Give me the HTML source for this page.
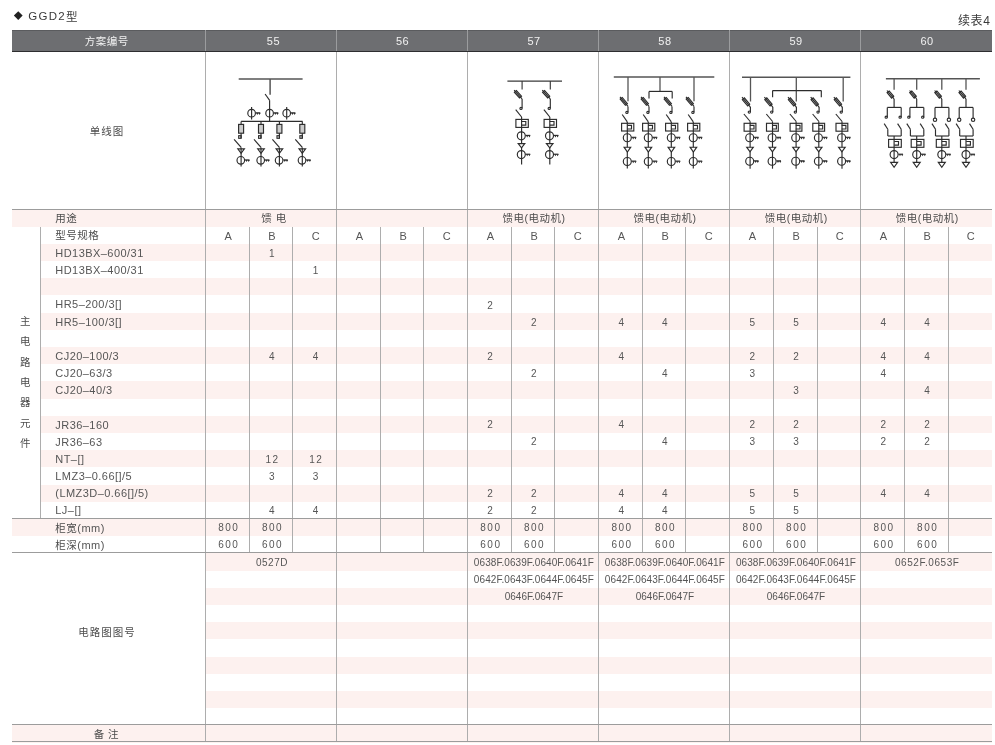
<!DOCTYPE html>
<html lang="zh-CN"><head><meta charset="utf-8"><title>GGD2</title>
<style>
html,body{margin:0;padding:0;background:#fff;}
body{width:995px;height:745px;position:relative;overflow:hidden;font-family:"Liberation Sans","Noto Sans CJK SC",sans-serif;font-weight:400;color:#565656;font-size:11px;}
.a{position:absolute;}
.p{position:absolute;background:#fdf1ef;}
.v{position:absolute;width:1px;background:#adadad;}
.h{position:absolute;height:1px;background:#9c9c9c;}
.t{position:absolute;white-space:nowrap;line-height:12px;height:12px;transform:translate(-50%,-50%);letter-spacing:.5px;}
.l{position:absolute;white-space:nowrap;line-height:12px;height:12px;transform:translate(0,-50%);letter-spacing:.45px;}
.c{font-size:10.5px;letter-spacing:.5px;color:#4c4c4c;}
.n{font-size:10px;letter-spacing:1.5px;}
.s{font-size:10px;letter-spacing:.07px;}
.s2{font-size:10px;letter-spacing:.55px;}
.s3{font-size:10px;letter-spacing:0;}
.w{color:#f1f1f1;}
svg{position:absolute;left:0;top:0;}
#L{position:absolute;left:0;top:0;width:995px;height:745px;will-change:transform;}
</style></head><body><div id="L">
<div class="t c" style="left:18.5px;top:16.1px;font-size:9px;color:#222">◆</div>
<div class="l" style="left:28.2px;top:15.8px;font-size:11.5px;letter-spacing:1.3px;color:#3a3a3a">GGD2<span style="position:relative;top:.9px">型</span></div>
<div class="l c" style="left:958px;top:21.3px;font-size:12px;letter-spacing:.6px;color:#3a3a3a">续表4</div>
<div class="a" style="left:12px;top:29.5px;width:980px;height:22.5px;background:#6d6e71;border-top:1px solid #5a5b5e;border-bottom:1px solid #2e2e30;box-sizing:border-box"></div>
<div class="v" style="left:205px;top:30px;height:21px;background:#9b9c9e"></div>
<div class="v" style="left:336px;top:30px;height:21px;background:#9b9c9e"></div>
<div class="v" style="left:467px;top:30px;height:21px;background:#9b9c9e"></div>
<div class="v" style="left:598px;top:30px;height:21px;background:#9b9c9e"></div>
<div class="v" style="left:729px;top:30px;height:21px;background:#9b9c9e"></div>
<div class="v" style="left:860px;top:30px;height:21px;background:#9b9c9e"></div>
<div class="p" style="left:12.0px;top:209.4px;width:980.0px;height:17.2px"></div>
<div class="p" style="left:41.0px;top:243.8px;width:951.0px;height:17.2px"></div>
<div class="p" style="left:41.0px;top:278.2px;width:951.0px;height:17.2px"></div>
<div class="p" style="left:41.0px;top:312.6px;width:951.0px;height:17.2px"></div>
<div class="p" style="left:41.0px;top:347.0px;width:951.0px;height:17.2px"></div>
<div class="p" style="left:41.0px;top:381.4px;width:951.0px;height:17.2px"></div>
<div class="p" style="left:41.0px;top:415.8px;width:951.0px;height:17.2px"></div>
<div class="p" style="left:41.0px;top:450.2px;width:951.0px;height:17.2px"></div>
<div class="p" style="left:41.0px;top:484.6px;width:951.0px;height:17.2px"></div>
<div class="p" style="left:12.0px;top:519.0px;width:980.0px;height:17.2px"></div>
<div class="p" style="left:206.0px;top:553.4px;width:786.0px;height:17.2px"></div>
<div class="p" style="left:206.0px;top:587.8px;width:786.0px;height:17.2px"></div>
<div class="p" style="left:206.0px;top:622.2px;width:786.0px;height:17.2px"></div>
<div class="p" style="left:206.0px;top:656.6px;width:786.0px;height:17.2px"></div>
<div class="p" style="left:206.0px;top:691.0px;width:786.0px;height:17.2px"></div>
<div class="p" style="left:12.0px;top:725.4px;width:980.0px;height:17.2px"></div>
<div class="v" style="left:205px;top:52px;height:690px"></div>
<div class="v" style="left:249px;top:227px;height:326px"></div>
<div class="v" style="left:292px;top:227px;height:326px"></div>
<div class="v" style="left:336px;top:52px;height:690px"></div>
<div class="v" style="left:380px;top:227px;height:326px"></div>
<div class="v" style="left:423px;top:227px;height:326px"></div>
<div class="v" style="left:467px;top:52px;height:690px"></div>
<div class="v" style="left:511px;top:227px;height:326px"></div>
<div class="v" style="left:554px;top:227px;height:326px"></div>
<div class="v" style="left:598px;top:52px;height:690px"></div>
<div class="v" style="left:642px;top:227px;height:326px"></div>
<div class="v" style="left:685px;top:227px;height:326px"></div>
<div class="v" style="left:729px;top:52px;height:690px"></div>
<div class="v" style="left:773px;top:227px;height:326px"></div>
<div class="v" style="left:817px;top:227px;height:326px"></div>
<div class="v" style="left:860px;top:52px;height:690px"></div>
<div class="v" style="left:904px;top:227px;height:326px"></div>
<div class="v" style="left:948px;top:227px;height:326px"></div>
<div class="v" style="left:40px;top:227px;height:292px"></div>
<div class="h" style="left:12px;top:209px;width:980px"></div>
<div class="h" style="left:12px;top:518px;width:980px"></div>
<div class="h" style="left:12px;top:552px;width:980px"></div>
<div class="h" style="left:12px;top:724px;width:980px"></div>
<div class="h" style="left:12px;top:741px;width:980px"></div>
<div class="t c w" style="left:106.7px;top:40.7px">方案编号</div>
<div class="t w" style="left:273.4px;top:40.9px">55</div>
<div class="t w" style="left:402.6px;top:40.9px">56</div>
<div class="t w" style="left:534.0px;top:40.9px">57</div>
<div class="t w" style="left:664.9px;top:40.9px">58</div>
<div class="t w" style="left:796.0px;top:40.9px">59</div>
<div class="t w" style="left:927.0px;top:40.9px">60</div>
<div class="t c" style="left:107.0px;top:131.0px;letter-spacing:1px">单线图</div>
<div class="t c" style="left:106.9px;top:632.0px;letter-spacing:1px">电路图图号</div>
<div class="t c" style="left:106.4px;top:733.8px">备 注</div>
<div class="l c" style="left:55.3px;top:218.0px">用途</div>
<div class="l c" style="left:55.3px;top:235.2px">型号规格</div>
<div class="l " style="left:55.3px;top:253.0px">HD13BX–600/31</div>
<div class="l " style="left:55.3px;top:270.0px">HD13BX–400/31</div>
<div class="l " style="left:55.3px;top:304.0px">HR5–200/3[]</div>
<div class="l " style="left:55.3px;top:322.0px">HR5–100/3[]</div>
<div class="l " style="left:55.3px;top:356.0px">CJ20–100/3</div>
<div class="l " style="left:55.3px;top:373.0px">CJ20–63/3</div>
<div class="l " style="left:55.3px;top:390.0px">CJ20–40/3</div>
<div class="l " style="left:55.3px;top:425.0px">JR36–160</div>
<div class="l " style="left:55.3px;top:442.0px">JR36–63</div>
<div class="l " style="left:55.3px;top:459.0px">NT–[]</div>
<div class="l " style="left:55.3px;top:476.0px">LMZ3–0.66[]/5</div>
<div class="l " style="left:55.3px;top:493.0px">(LMZ3D–0.66[]/5)</div>
<div class="l " style="left:55.3px;top:510.0px">LJ–[]</div>
<div class="l " style="left:55.3px;top:528.0px"><span class="c">柜宽</span>(mm)</div>
<div class="l " style="left:55.3px;top:545.0px"><span class="c">柜深</span>(mm)</div>
<div class="t c" style="left:25.4px;top:320.9px">主</div>
<div class="t c" style="left:25.4px;top:341.2px">电</div>
<div class="t c" style="left:25.4px;top:361.6px">路</div>
<div class="t c" style="left:25.4px;top:381.9px">电</div>
<div class="t c" style="left:25.4px;top:402.3px">器</div>
<div class="t c" style="left:25.4px;top:422.6px">元</div>
<div class="t c" style="left:25.4px;top:443.0px">件</div>
<div class="t c" style="left:274.0px;top:218.0px">馈 电</div>
<div class="t c" style="left:534.1px;top:218.0px">馈电(电动机)</div>
<div class="t c" style="left:665.1px;top:218.0px">馈电(电动机)</div>
<div class="t c" style="left:796.2px;top:218.0px">馈电(电动机)</div>
<div class="t c" style="left:927.2px;top:218.0px">馈电(电动机)</div>
<div class="t " style="left:228.5px;top:236.0px">A</div>
<div class="t " style="left:272.2px;top:236.0px">B</div>
<div class="t " style="left:315.9px;top:236.0px">C</div>
<div class="t " style="left:359.6px;top:236.0px">A</div>
<div class="t " style="left:403.3px;top:236.0px">B</div>
<div class="t " style="left:446.9px;top:236.0px">C</div>
<div class="t " style="left:490.6px;top:236.0px">A</div>
<div class="t " style="left:534.3px;top:236.0px">B</div>
<div class="t " style="left:578.0px;top:236.0px">C</div>
<div class="t " style="left:621.7px;top:236.0px">A</div>
<div class="t " style="left:665.3px;top:236.0px">B</div>
<div class="t " style="left:709.0px;top:236.0px">C</div>
<div class="t " style="left:752.7px;top:236.0px">A</div>
<div class="t " style="left:796.4px;top:236.0px">B</div>
<div class="t " style="left:840.1px;top:236.0px">C</div>
<div class="t " style="left:883.7px;top:236.0px">A</div>
<div class="t " style="left:927.4px;top:236.0px">B</div>
<div class="t " style="left:971.1px;top:236.0px">C</div>
<div class="t n" style="left:228.8px;top:528.0px">800</div>
<div class="t n" style="left:228.8px;top:545.0px">600</div>
<div class="t n" style="left:272.5px;top:254.0px">1</div>
<div class="t n" style="left:272.5px;top:357.0px">4</div>
<div class="t n" style="left:272.5px;top:460.0px">12</div>
<div class="t n" style="left:272.5px;top:477.0px">3</div>
<div class="t n" style="left:272.5px;top:511.0px">4</div>
<div class="t n" style="left:272.5px;top:528.0px">800</div>
<div class="t n" style="left:272.5px;top:545.0px">600</div>
<div class="t n" style="left:316.2px;top:271.0px">1</div>
<div class="t n" style="left:316.2px;top:357.0px">4</div>
<div class="t n" style="left:316.2px;top:460.0px">12</div>
<div class="t n" style="left:316.2px;top:477.0px">3</div>
<div class="t n" style="left:316.2px;top:511.0px">4</div>
<div class="t n" style="left:490.9px;top:306.0px">2</div>
<div class="t n" style="left:490.9px;top:357.0px">2</div>
<div class="t n" style="left:490.9px;top:425.0px">2</div>
<div class="t n" style="left:490.9px;top:494.0px">2</div>
<div class="t n" style="left:490.9px;top:511.0px">2</div>
<div class="t n" style="left:490.9px;top:528.0px">800</div>
<div class="t n" style="left:490.9px;top:545.0px">600</div>
<div class="t n" style="left:534.6px;top:323.0px">2</div>
<div class="t n" style="left:534.6px;top:374.0px">2</div>
<div class="t n" style="left:534.6px;top:442.0px">2</div>
<div class="t n" style="left:534.6px;top:494.0px">2</div>
<div class="t n" style="left:534.6px;top:511.0px">2</div>
<div class="t n" style="left:534.6px;top:528.0px">800</div>
<div class="t n" style="left:534.6px;top:545.0px">600</div>
<div class="t n" style="left:622.0px;top:323.0px">4</div>
<div class="t n" style="left:622.0px;top:357.0px">4</div>
<div class="t n" style="left:622.0px;top:425.0px">4</div>
<div class="t n" style="left:622.0px;top:494.0px">4</div>
<div class="t n" style="left:622.0px;top:511.0px">4</div>
<div class="t n" style="left:622.0px;top:528.0px">800</div>
<div class="t n" style="left:622.0px;top:545.0px">600</div>
<div class="t n" style="left:665.6px;top:323.0px">4</div>
<div class="t n" style="left:665.6px;top:374.0px">4</div>
<div class="t n" style="left:665.6px;top:442.0px">4</div>
<div class="t n" style="left:665.6px;top:494.0px">4</div>
<div class="t n" style="left:665.6px;top:511.0px">4</div>
<div class="t n" style="left:665.6px;top:528.0px">800</div>
<div class="t n" style="left:665.6px;top:545.0px">600</div>
<div class="t n" style="left:753.0px;top:323.0px">5</div>
<div class="t n" style="left:753.0px;top:357.0px">2</div>
<div class="t n" style="left:753.0px;top:374.0px">3</div>
<div class="t n" style="left:753.0px;top:425.0px">2</div>
<div class="t n" style="left:753.0px;top:442.0px">3</div>
<div class="t n" style="left:753.0px;top:494.0px">5</div>
<div class="t n" style="left:753.0px;top:511.0px">5</div>
<div class="t n" style="left:753.0px;top:528.0px">800</div>
<div class="t n" style="left:753.0px;top:545.0px">600</div>
<div class="t n" style="left:796.7px;top:323.0px">5</div>
<div class="t n" style="left:796.7px;top:357.0px">2</div>
<div class="t n" style="left:796.7px;top:391.0px">3</div>
<div class="t n" style="left:796.7px;top:425.0px">2</div>
<div class="t n" style="left:796.7px;top:442.0px">3</div>
<div class="t n" style="left:796.7px;top:494.0px">5</div>
<div class="t n" style="left:796.7px;top:511.0px">5</div>
<div class="t n" style="left:796.7px;top:528.0px">800</div>
<div class="t n" style="left:796.7px;top:545.0px">600</div>
<div class="t n" style="left:884.0px;top:323.0px">4</div>
<div class="t n" style="left:884.0px;top:357.0px">4</div>
<div class="t n" style="left:884.0px;top:374.0px">4</div>
<div class="t n" style="left:884.0px;top:425.0px">2</div>
<div class="t n" style="left:884.0px;top:442.0px">2</div>
<div class="t n" style="left:884.0px;top:494.0px">4</div>
<div class="t n" style="left:884.0px;top:528.0px">800</div>
<div class="t n" style="left:884.0px;top:545.0px">600</div>
<div class="t n" style="left:927.7px;top:323.0px">4</div>
<div class="t n" style="left:927.7px;top:357.0px">4</div>
<div class="t n" style="left:927.7px;top:391.0px">4</div>
<div class="t n" style="left:927.7px;top:425.0px">2</div>
<div class="t n" style="left:927.7px;top:442.0px">2</div>
<div class="t n" style="left:927.7px;top:494.0px">4</div>
<div class="t n" style="left:927.7px;top:528.0px">800</div>
<div class="t n" style="left:927.7px;top:545.0px">600</div>
<div class="t s2" style="left:272.0px;top:562.5px">0527D</div>
<div class="t s" style="left:533.9px;top:562.5px">0638F.0639F.0640F.0641F</div>
<div class="t s" style="left:533.9px;top:579.7px">0642F.0643F.0644F.0645F</div>
<div class="t s3" style="left:533.9px;top:596.9px">0646F.0647F</div>
<div class="t s" style="left:664.9px;top:562.5px">0638F.0639F.0640F.0641F</div>
<div class="t s" style="left:664.9px;top:579.7px">0642F.0643F.0644F.0645F</div>
<div class="t s3" style="left:664.9px;top:596.9px">0646F.0647F</div>
<div class="t s" style="left:796.0px;top:562.5px">0638F.0639F.0640F.0641F</div>
<div class="t s" style="left:796.0px;top:579.7px">0642F.0643F.0644F.0645F</div>
<div class="t s3" style="left:796.0px;top:596.9px">0646F.0647F</div>
<div class="t s2" style="left:927.2px;top:562.5px">0652F.0653F</div>
<svg width="995" height="745" viewBox="0 0 995 745" fill="none" stroke="#2c2c2c" stroke-width="1.15" stroke-linecap="butt">
<path d="M238.7 78.9L302.6 78.9" stroke="#555" stroke-width="1.50"/>
<path d="M270.1 78.9L270.1 94.7" stroke="#555" stroke-width="1.50"/>
<path d="M265.1 94.0L269.6 100.3"/>
<path d="M269.6 100.3L269.6 121.4"/>
<circle cx="251.6" cy="113.2" r="3.8"/>
<path d="M255.7 112.8h4.6"/>
<path d="M256.2 112.9h2.2l-1.1 2zM258.4 112.9h2.2l-1.1 2z" fill="#2c2c2c" stroke="none"/>
<path d="M251.6 106.9L251.6 119.5"/>
<circle cx="286.7" cy="113.2" r="3.8"/>
<path d="M290.8 112.8h4.6"/>
<path d="M291.3 112.9h2.2l-1.1 2zM293.5 112.9h2.2l-1.1 2z" fill="#2c2c2c" stroke="none"/>
<path d="M286.7 106.9L286.7 119.5"/>
<circle cx="269.6" cy="113.2" r="3.8"/>
<path d="M273.7 112.8h4.6"/>
<path d="M274.2 112.9h2.2l-1.1 2zM276.4 112.9h2.2l-1.1 2z" fill="#2c2c2c" stroke="none"/>
<path d="M241.1 121.4L302.6 121.4" stroke-width="1.1"/>
<path d="M241.1 121.4L241.1 138.3"/>
<rect x="238.6" y="124.4" width="5" height="8.8" fill="#ccc"/>
<rect x="238.7" y="135.7" width="2.4" height="2.6"/>
<path d="M234.1 139.3L241.1 147.4"/>
<path d="M241.1 147.4L241.1 166.5"/>
<path d="M237.8 148.9L244.4 148.9L241.1 153.4Z" fill="none"/>
<circle cx="240.8" cy="160.3" r="3.8"/>
<path d="M244.9 159.9h4.6"/>
<path d="M245.4 160.0h2.2l-1.1 2zM247.6 160.0h2.2l-1.1 2z" fill="#2c2c2c" stroke="none"/>
<path d="M261.0 121.4L261.0 138.3"/>
<rect x="258.5" y="124.4" width="5" height="8.8" fill="#ccc"/>
<rect x="258.6" y="135.7" width="2.4" height="2.6"/>
<path d="M254.0 139.3L261.0 147.4"/>
<path d="M261.0 147.4L261.0 166.5"/>
<path d="M257.7 148.9L264.3 148.9L261.0 153.4Z" fill="none"/>
<circle cx="260.7" cy="160.3" r="3.8"/>
<path d="M264.8 159.9h4.6"/>
<path d="M265.3 160.0h2.2l-1.1 2zM267.5 160.0h2.2l-1.1 2z" fill="#2c2c2c" stroke="none"/>
<path d="M279.4 121.4L279.4 138.3"/>
<rect x="276.9" y="124.4" width="5" height="8.8" fill="#ccc"/>
<rect x="277.0" y="135.7" width="2.4" height="2.6"/>
<path d="M272.4 139.3L279.4 147.4"/>
<path d="M279.4 147.4L279.4 166.5"/>
<path d="M276.1 148.9L282.7 148.9L279.4 153.4Z" fill="none"/>
<circle cx="279.1" cy="160.3" r="3.8"/>
<path d="M283.2 159.9h4.6"/>
<path d="M283.7 160.0h2.2l-1.1 2zM285.9 160.0h2.2l-1.1 2z" fill="#2c2c2c" stroke="none"/>
<path d="M302.3 121.4L302.3 138.3"/>
<rect x="299.8" y="124.4" width="5" height="8.8" fill="#ccc"/>
<rect x="299.9" y="135.7" width="2.4" height="2.6"/>
<path d="M295.3 139.3L302.3 147.4"/>
<path d="M302.3 147.4L302.3 166.5"/>
<path d="M299.0 148.9L305.6 148.9L302.3 153.4Z" fill="none"/>
<circle cx="302.0" cy="160.3" r="3.8"/>
<path d="M306.1 159.9h4.6"/>
<path d="M306.6 160.0h2.2l-1.1 2zM308.8 160.0h2.2l-1.1 2z" fill="#2c2c2c" stroke="none"/>
<path d="M507.4 81.1L562.0 81.1" stroke="#3a3a3a" stroke-width="1.20"/>
<path d="M522.1 81.1L522.1 89.5" stroke="#3a3a3a" stroke-width="1.15"/>
<path d="M514.4 92.4L519.5 98.0L521.5 96.2L516.4 90.6Z" fill="#d8d8d8"/>
<path d="M514.1 90.1L522.1 98.9"/>
<path d="M522.1 98.9L522.1 108.2"/>
<circle cx="521.0" cy="108.4" r="1.1"/>
<path d="M515.7 109.6L521.6 117.0"/>
<path d="M521.6 117.0L521.6 164.6"/>
<rect x="515.9" y="119.4" width="12.4" height="8.0"/>
<path d="M521.6 121.5L525.8 121.5L525.8 125.1L521.6 125.1" fill="none"/>
<circle cx="521.3" cy="135.8" r="4.0"/>
<path d="M525.6 135.4h4.6"/>
<path d="M526.1 135.5h2.2l-1.1 2zM528.3 135.5h2.2l-1.1 2z" fill="#2c2c2c" stroke="none"/>
<path d="M518.2 143.6L524.8 143.6L521.5 147.9Z" fill="#fff"/>
<circle cx="521.3" cy="154.6" r="4.0"/>
<path d="M525.6 154.2h4.6"/>
<path d="M526.1 154.3h2.2l-1.1 2zM528.3 154.3h2.2l-1.1 2z" fill="#2c2c2c" stroke="none"/>
<path d="M550.3 81.1L550.3 89.5" stroke="#3a3a3a" stroke-width="1.15"/>
<path d="M542.6 92.4L547.7 98.0L549.7 96.2L544.6 90.6Z" fill="#d8d8d8"/>
<path d="M542.3 90.1L550.3 98.9"/>
<path d="M550.3 98.9L550.3 108.2"/>
<circle cx="549.2" cy="108.4" r="1.1"/>
<path d="M543.9 109.6L549.8 117.0"/>
<path d="M549.8 117.0L549.8 164.6"/>
<rect x="544.1" y="119.4" width="12.4" height="8.0"/>
<path d="M549.8 121.5L554.0 121.5L554.0 125.1L549.8 125.1" fill="none"/>
<circle cx="549.5" cy="135.8" r="4.0"/>
<path d="M553.8 135.4h4.6"/>
<path d="M554.3 135.5h2.2l-1.1 2zM556.5 135.5h2.2l-1.1 2z" fill="#2c2c2c" stroke="none"/>
<path d="M546.4 143.6L553.0 143.6L549.7 147.9Z" fill="#fff"/>
<circle cx="549.5" cy="154.6" r="4.0"/>
<path d="M553.8 154.2h4.6"/>
<path d="M554.3 154.3h2.2l-1.1 2zM556.5 154.3h2.2l-1.1 2z" fill="#2c2c2c" stroke="none"/>
<path d="M613.8 77.1L714.3 77.1" stroke="#555" stroke-width="1.50"/>
<path d="M628.0 77.1L628.0 101.2" stroke="#555" stroke-width="1.30"/>
<path d="M694.0 77.1L694.0 101.2" stroke="#555" stroke-width="1.30"/>
<path d="M660.0 77.1L660.0 91.4" stroke="#555" stroke-width="1.30"/>
<path d="M649.0 91.4L672.2 91.4"/>
<path d="M649.0 91.4L649.0 98.5"/>
<path d="M672.2 91.4L672.2 98.5"/>
<path d="M620.2 99.2L625.4 105.3L627.4 103.6L622.3 97.5Z" fill="#d8d8d8"/>
<path d="M620.0 96.8L628.0 106.4"/>
<path d="M628.0 106.4L628.0 112.2"/>
<circle cx="626.9" cy="112.4" r="1.1"/>
<path d="M622.2 114.5L627.3 121.9"/>
<path d="M627.3 121.9L627.3 168.4"/>
<rect x="621.6" y="123.3" width="12.2" height="7.7"/>
<path d="M627.3 125.4L631.5 125.4L631.5 129.0L627.3 129.0" fill="none"/>
<circle cx="627.3" cy="137.7" r="4.0"/>
<path d="M631.6 137.3h4.6"/>
<path d="M632.1 137.4h2.2l-1.1 2zM634.3 137.4h2.2l-1.1 2z" fill="#2c2c2c" stroke="none"/>
<path d="M624.1 147.2L630.7 147.2L627.4 152.0Z" fill="#fff"/>
<circle cx="627.3" cy="161.5" r="4.0"/>
<path d="M631.6 161.1h4.6"/>
<path d="M632.1 161.2h2.2l-1.1 2zM634.3 161.2h2.2l-1.1 2z" fill="#2c2c2c" stroke="none"/>
<path d="M641.2 99.2L646.4 105.3L648.4 103.6L643.3 97.5Z" fill="#d8d8d8"/>
<path d="M641.0 96.8L649.0 106.4"/>
<path d="M649.0 106.4L649.0 112.2"/>
<circle cx="647.9" cy="112.4" r="1.1"/>
<path d="M643.2 114.5L648.3 121.9"/>
<path d="M648.3 121.9L648.3 168.4"/>
<rect x="642.6" y="123.3" width="12.2" height="7.7"/>
<path d="M648.3 125.4L652.5 125.4L652.5 129.0L648.3 129.0" fill="none"/>
<circle cx="648.3" cy="137.7" r="4.0"/>
<path d="M652.6 137.3h4.6"/>
<path d="M653.1 137.4h2.2l-1.1 2zM655.3 137.4h2.2l-1.1 2z" fill="#2c2c2c" stroke="none"/>
<path d="M645.1 147.2L651.7 147.2L648.4 152.0Z" fill="#fff"/>
<circle cx="648.3" cy="161.5" r="4.0"/>
<path d="M652.6 161.1h4.6"/>
<path d="M653.1 161.2h2.2l-1.1 2zM655.3 161.2h2.2l-1.1 2z" fill="#2c2c2c" stroke="none"/>
<path d="M664.2 99.2L669.4 105.3L671.4 103.6L666.3 97.5Z" fill="#d8d8d8"/>
<path d="M664.0 96.8L672.0 106.4"/>
<path d="M672.0 106.4L672.0 112.2"/>
<circle cx="670.9" cy="112.4" r="1.1"/>
<path d="M666.2 114.5L671.3 121.9"/>
<path d="M671.3 121.9L671.3 168.4"/>
<rect x="665.6" y="123.3" width="12.2" height="7.7"/>
<path d="M671.3 125.4L675.5 125.4L675.5 129.0L671.3 129.0" fill="none"/>
<circle cx="671.3" cy="137.7" r="4.0"/>
<path d="M675.6 137.3h4.6"/>
<path d="M676.1 137.4h2.2l-1.1 2zM678.3 137.4h2.2l-1.1 2z" fill="#2c2c2c" stroke="none"/>
<path d="M668.1 147.2L674.7 147.2L671.4 152.0Z" fill="#fff"/>
<circle cx="671.3" cy="161.5" r="4.0"/>
<path d="M675.6 161.1h4.6"/>
<path d="M676.1 161.2h2.2l-1.1 2zM678.3 161.2h2.2l-1.1 2z" fill="#2c2c2c" stroke="none"/>
<path d="M686.2 99.2L691.4 105.3L693.4 103.6L688.3 97.5Z" fill="#d8d8d8"/>
<path d="M686.0 96.8L694.0 106.4"/>
<path d="M694.0 106.4L694.0 112.2"/>
<circle cx="692.9" cy="112.4" r="1.1"/>
<path d="M688.2 114.5L693.3 121.9"/>
<path d="M693.3 121.9L693.3 168.4"/>
<rect x="687.6" y="123.3" width="12.2" height="7.7"/>
<path d="M693.3 125.4L697.5 125.4L697.5 129.0L693.3 129.0" fill="none"/>
<circle cx="693.3" cy="137.7" r="4.0"/>
<path d="M697.6 137.3h4.6"/>
<path d="M698.1 137.4h2.2l-1.1 2zM700.3 137.4h2.2l-1.1 2z" fill="#2c2c2c" stroke="none"/>
<path d="M690.1 147.2L696.7 147.2L693.4 152.0Z" fill="#fff"/>
<circle cx="693.3" cy="161.5" r="4.0"/>
<path d="M697.6 161.1h4.6"/>
<path d="M698.1 161.2h2.2l-1.1 2zM700.3 161.2h2.2l-1.1 2z" fill="#2c2c2c" stroke="none"/>
<path d="M742.0 77.3L850.4 77.3" stroke="#555" stroke-width="1.50"/>
<path d="M750.5 77.3L750.5 101.5" stroke="#555" stroke-width="1.30"/>
<path d="M843.2 77.3L843.2 101.5" stroke="#555" stroke-width="1.30"/>
<path d="M796.3 77.3L796.3 101.5" stroke="#555" stroke-width="1.30"/>
<path d="M772.6 90.6L821.3 90.6"/>
<path d="M772.6 90.6L772.6 97.3"/>
<path d="M821.3 90.6L821.3 97.3"/>
<path d="M742.3 99.7L747.7 106.0L749.7 104.2L744.4 97.9Z" fill="#d8d8d8"/>
<path d="M742.0 97.2L750.4 107.1"/>
<path d="M750.4 107.1L750.4 111.9"/>
<circle cx="749.3" cy="112.1" r="1.1"/>
<path d="M743.9 114.0L750.2 121.5"/>
<path d="M750.1 121.5L750.1 168.7"/>
<rect x="744.1" y="123.3" width="11.8" height="7.9"/>
<path d="M749.8 125.4L754.0 125.4L754.0 129.0L749.8 129.0" fill="none"/>
<circle cx="749.7" cy="137.7" r="4.0"/>
<path d="M754.0 137.3h4.6"/>
<path d="M754.5 137.4h2.2l-1.1 2zM756.7 137.4h2.2l-1.1 2z" fill="#2c2c2c" stroke="none"/>
<path d="M746.7 147.2L753.3 147.2L750.0 151.8Z" fill="#fff"/>
<circle cx="749.7" cy="161.2" r="4.0"/>
<path d="M754.0 160.8h4.6"/>
<path d="M754.5 160.9h2.2l-1.1 2zM756.7 160.9h2.2l-1.1 2z" fill="#2c2c2c" stroke="none"/>
<path d="M764.7 99.7L770.1 106.0L772.1 104.2L766.8 97.9Z" fill="#d8d8d8"/>
<path d="M764.4 97.2L772.8 107.1"/>
<path d="M772.8 107.1L772.8 111.9"/>
<circle cx="771.7" cy="112.1" r="1.1"/>
<path d="M766.3 114.0L772.6 121.5"/>
<path d="M772.5 121.5L772.5 168.7"/>
<rect x="766.5" y="123.3" width="11.8" height="7.9"/>
<path d="M772.2 125.4L776.4 125.4L776.4 129.0L772.2 129.0" fill="none"/>
<circle cx="772.1" cy="137.7" r="4.0"/>
<path d="M776.4 137.3h4.6"/>
<path d="M776.9 137.4h2.2l-1.1 2zM779.1 137.4h2.2l-1.1 2z" fill="#2c2c2c" stroke="none"/>
<path d="M769.1 147.2L775.7 147.2L772.4 151.8Z" fill="#fff"/>
<circle cx="772.1" cy="161.2" r="4.0"/>
<path d="M776.4 160.8h4.6"/>
<path d="M776.9 160.9h2.2l-1.1 2zM779.1 160.9h2.2l-1.1 2z" fill="#2c2c2c" stroke="none"/>
<path d="M788.3 99.7L793.7 106.0L795.7 104.2L790.4 97.9Z" fill="#d8d8d8"/>
<path d="M788.0 97.2L796.4 107.1"/>
<path d="M796.4 107.1L796.4 111.9"/>
<circle cx="795.3" cy="112.1" r="1.1"/>
<path d="M789.9 114.0L796.2 121.5"/>
<path d="M796.1 121.5L796.1 168.7"/>
<rect x="790.1" y="123.3" width="11.8" height="7.9"/>
<path d="M795.8 125.4L800.0 125.4L800.0 129.0L795.8 129.0" fill="none"/>
<circle cx="795.7" cy="137.7" r="4.0"/>
<path d="M800.0 137.3h4.6"/>
<path d="M800.5 137.4h2.2l-1.1 2zM802.7 137.4h2.2l-1.1 2z" fill="#2c2c2c" stroke="none"/>
<path d="M792.7 147.2L799.3 147.2L796.0 151.8Z" fill="#fff"/>
<circle cx="795.7" cy="161.2" r="4.0"/>
<path d="M800.0 160.8h4.6"/>
<path d="M800.5 160.9h2.2l-1.1 2zM802.7 160.9h2.2l-1.1 2z" fill="#2c2c2c" stroke="none"/>
<path d="M811.0 99.7L816.4 106.0L818.4 104.2L813.1 97.9Z" fill="#d8d8d8"/>
<path d="M810.7 97.2L819.1 107.1"/>
<path d="M819.1 107.1L819.1 111.9"/>
<circle cx="818.0" cy="112.1" r="1.1"/>
<path d="M812.6 114.0L818.9 121.5"/>
<path d="M818.8 121.5L818.8 168.7"/>
<rect x="812.8" y="123.3" width="11.8" height="7.9"/>
<path d="M818.5 125.4L822.7 125.4L822.7 129.0L818.5 129.0" fill="none"/>
<circle cx="818.4" cy="137.7" r="4.0"/>
<path d="M822.7 137.3h4.6"/>
<path d="M823.2 137.4h2.2l-1.1 2zM825.4 137.4h2.2l-1.1 2z" fill="#2c2c2c" stroke="none"/>
<path d="M815.4 147.2L822.0 147.2L818.7 151.8Z" fill="#fff"/>
<circle cx="818.4" cy="161.2" r="4.0"/>
<path d="M822.7 160.8h4.6"/>
<path d="M823.2 160.9h2.2l-1.1 2zM825.4 160.9h2.2l-1.1 2z" fill="#2c2c2c" stroke="none"/>
<path d="M834.2 99.7L839.6 106.0L841.6 104.2L836.3 97.9Z" fill="#d8d8d8"/>
<path d="M833.9 97.2L842.3 107.1"/>
<path d="M842.3 107.1L842.3 111.9"/>
<circle cx="841.2" cy="112.1" r="1.1"/>
<path d="M835.8 114.0L842.1 121.5"/>
<path d="M842.0 121.5L842.0 168.7"/>
<rect x="836.0" y="123.3" width="11.8" height="7.9"/>
<path d="M841.7 125.4L845.9 125.4L845.9 129.0L841.7 129.0" fill="none"/>
<circle cx="841.6" cy="137.7" r="4.0"/>
<path d="M845.9 137.3h4.6"/>
<path d="M846.4 137.4h2.2l-1.1 2zM848.6 137.4h2.2l-1.1 2z" fill="#2c2c2c" stroke="none"/>
<path d="M838.6 147.2L845.2 147.2L841.9 151.8Z" fill="#fff"/>
<circle cx="841.6" cy="161.2" r="4.0"/>
<path d="M845.9 160.8h4.6"/>
<path d="M846.4 160.9h2.2l-1.1 2zM848.6 160.9h2.2l-1.1 2z" fill="#2c2c2c" stroke="none"/>
<path d="M885.9 78.7L979.9 78.7" stroke="#555" stroke-width="1.50"/>
<path d="M894.1 78.7L894.1 89.7" stroke="#555" stroke-width="1.30"/>
<path d="M887.1 92.7L891.6 98.1L893.7 96.3L889.2 91.0Z" fill="#d8d8d8"/>
<path d="M887.0 90.5L894.1 98.9"/>
<path d="M894.1 98.9L894.1 107.4"/>
<path d="M887.3 107.4L901.2 107.4"/>
<path d="M887.3 107.4L887.3 117.5"/>
<path d="M901.2 107.4L901.2 117.5"/>
<circle cx="886.2" cy="117.2" r="1.1"/>
<circle cx="900.1" cy="117.2" r="1.1"/>
<path d="M884.2 123.6L887.8 129.2"/>
<path d="M887.8 129.2L887.8 136.0"/>
<path d="M897.6 123.6L901.2 129.2"/>
<path d="M901.2 129.2L901.2 136.0"/>
<path d="M887.8 136.0L901.2 136.0"/>
<path d="M894.1 136.0L894.1 162.4"/>
<rect x="888.6" y="139.4" width="12.7" height="7.9"/>
<path d="M894.3 141.5L898.5 141.5L898.5 145.1L894.3 145.1" fill="none"/>
<circle cx="894.1" cy="154.6" r="4.0"/>
<path d="M898.4 154.2h4.6"/>
<path d="M898.9 154.3h2.2l-1.1 2zM901.1 154.3h2.2l-1.1 2z" fill="#2c2c2c" stroke="none"/>
<path d="M890.6 162.4L897.6 162.4L894.1 167.3Z" fill="#fff"/>
<path d="M916.7 78.7L916.7 89.7" stroke="#555" stroke-width="1.30"/>
<path d="M909.7 92.7L914.2 98.1L916.3 96.3L911.8 91.0Z" fill="#d8d8d8"/>
<path d="M909.6 90.5L916.7 98.9"/>
<path d="M916.7 98.9L916.7 107.4"/>
<path d="M909.9 107.4L923.8 107.4"/>
<path d="M909.9 107.4L909.9 117.5"/>
<path d="M923.8 107.4L923.8 117.5"/>
<circle cx="908.8" cy="117.2" r="1.1"/>
<circle cx="922.7" cy="117.2" r="1.1"/>
<path d="M906.8 123.6L910.4 129.2"/>
<path d="M910.4 129.2L910.4 136.0"/>
<path d="M920.2 123.6L923.8 129.2"/>
<path d="M923.8 129.2L923.8 136.0"/>
<path d="M910.4 136.0L923.8 136.0"/>
<path d="M916.7 136.0L916.7 162.4"/>
<rect x="911.2" y="139.4" width="12.7" height="7.9"/>
<path d="M916.9 141.5L921.1 141.5L921.1 145.1L916.9 145.1" fill="none"/>
<circle cx="916.7" cy="154.6" r="4.0"/>
<path d="M921.0 154.2h4.6"/>
<path d="M921.5 154.3h2.2l-1.1 2zM923.7 154.3h2.2l-1.1 2z" fill="#2c2c2c" stroke="none"/>
<path d="M913.2 162.4L920.2 162.4L916.7 167.3Z" fill="#fff"/>
<path d="M941.8 78.7L941.8 89.7" stroke="#555" stroke-width="1.30"/>
<path d="M934.8 92.7L939.3 98.1L941.4 96.3L936.9 91.0Z" fill="#d8d8d8"/>
<path d="M934.7 90.5L941.8 98.9"/>
<path d="M941.8 98.9L941.8 107.4"/>
<path d="M935.0 107.4L948.9 107.4"/>
<path d="M935.0 107.4L935.0 118.0"/>
<path d="M948.9 107.4L948.9 118.0"/>
<circle cx="935.0" cy="119.8" r="1.7"/>
<circle cx="948.9" cy="119.8" r="1.7"/>
<path d="M931.9 123.6L935.5 129.2"/>
<path d="M935.5 129.2L935.5 136.0"/>
<path d="M945.3 123.6L948.9 129.2"/>
<path d="M948.9 129.2L948.9 136.0"/>
<path d="M935.5 136.0L948.9 136.0"/>
<path d="M941.8 136.0L941.8 162.4"/>
<rect x="936.3" y="139.4" width="12.7" height="7.9"/>
<path d="M942.0 141.5L946.2 141.5L946.2 145.1L942.0 145.1" fill="none"/>
<circle cx="941.8" cy="154.6" r="4.0"/>
<path d="M946.1 154.2h4.6"/>
<path d="M946.6 154.3h2.2l-1.1 2zM948.8 154.3h2.2l-1.1 2z" fill="#2c2c2c" stroke="none"/>
<path d="M938.3 162.4L945.3 162.4L941.8 167.3Z" fill="#fff"/>
<path d="M966.0 78.7L966.0 89.7" stroke="#555" stroke-width="1.30"/>
<path d="M959.0 92.7L963.5 98.1L965.6 96.3L961.1 91.0Z" fill="#d8d8d8"/>
<path d="M958.9 90.5L966.0 98.9"/>
<path d="M966.0 98.9L966.0 107.4"/>
<path d="M959.2 107.4L973.1 107.4"/>
<path d="M959.2 107.4L959.2 118.0"/>
<path d="M973.1 107.4L973.1 118.0"/>
<circle cx="959.2" cy="119.8" r="1.7"/>
<circle cx="973.1" cy="119.8" r="1.7"/>
<path d="M956.1 123.6L959.7 129.2"/>
<path d="M959.7 129.2L959.7 136.0"/>
<path d="M969.5 123.6L973.1 129.2"/>
<path d="M973.1 129.2L973.1 136.0"/>
<path d="M959.7 136.0L973.1 136.0"/>
<path d="M966.0 136.0L966.0 162.4"/>
<rect x="960.5" y="139.4" width="12.7" height="7.9"/>
<path d="M966.2 141.5L970.4 141.5L970.4 145.1L966.2 145.1" fill="none"/>
<circle cx="966.0" cy="154.6" r="4.0"/>
<path d="M970.3 154.2h4.6"/>
<path d="M970.8 154.3h2.2l-1.1 2zM973.0 154.3h2.2l-1.1 2z" fill="#2c2c2c" stroke="none"/>
<path d="M962.5 162.4L969.5 162.4L966.0 167.3Z" fill="#fff"/>
</svg>
</div></body></html>
